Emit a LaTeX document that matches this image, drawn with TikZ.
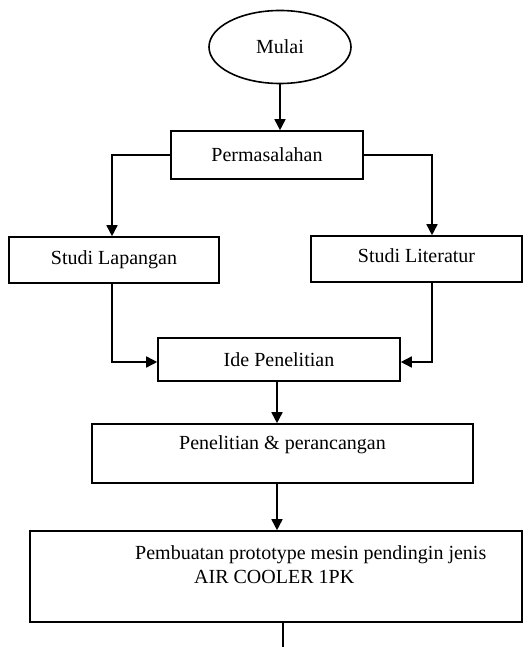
\documentclass[tikz,border=0pt]{standalone}
\usepackage{fontspec}
\setmainfont{Liberation Serif}
\usetikzlibrary{shapes.geometric,arrows.meta}
\begin{document}
\begin{tikzpicture}[x=1pt,y=-1pt,
  every node/.style={font=\fontsize{20}{24}\selectfont, inner sep=0pt},
  box/.style={draw, line width=1.6pt, rectangle},
  oval/.style={draw, line width=1.6pt, ellipse},
  link/.style={line width=1.6pt},
  arr/.style={line width=1.6pt, -{Triangle[length=11pt,width=11pt]}}]
\useasboundingbox (0,0) rectangle (528,647);
\node[oval, minimum width=142, minimum height=73] (mulai) at (280,47) {Mulai};
\node[box, minimum width=192, minimum height=48] (perm) at (267,155) {Permasalahan};
\node[box, minimum width=210, minimum height=46] (lap) at (114,260) {Studi Lapangan};
\node[box, minimum width=211, minimum height=46] (lit) at (416.5,259) {};
\node (littext) at (416.5,256) {Studi Literatur};
\node[box, minimum width=242, minimum height=43] (ide) at (279,359.5) {Ide Penelitian};
\node[box, minimum width=381, minimum height=59] (pen) at (282.5,453.5) {};
\node (pentext) at (282.5,445) {Penelitian \& perancangan};
\node[box, minimum width=492, minimum height=91] (pemb) at (276,576.5) {};
\node[anchor=west] (pembA) at (135,555) {Pembuatan prototype mesin pendingin jenis};
\node[anchor=west] (pembB) at (194,577) {AIR COOLER 1PK};
\coordinate (endpt) at (283,647);

\draw[arr] (mulai.south) -- (mulai.south |- perm.north);
\draw[arr] (perm.west) -| ([xshift=-2]lap.north);
\draw[arr] (perm.east) -| ([xshift=15.5]lit.north);
\draw[arr] ([xshift=-2]lap.south) |- ([yshift=-2.5]ide.west);
\draw[arr] ([xshift=15.5]lit.south) |- ([yshift=-2.5]ide.east);
\draw[arr] ([xshift=-2]ide.south) -- ([xshift=-2]ide.south |- pen.north);
\draw[arr] ([xshift=-5.5]pen.south) -- ([xshift=-5.5]pen.south |- pemb.north);
\draw[link] (endpt |- pemb.south) -- (endpt);
\end{tikzpicture}
\end{document}
